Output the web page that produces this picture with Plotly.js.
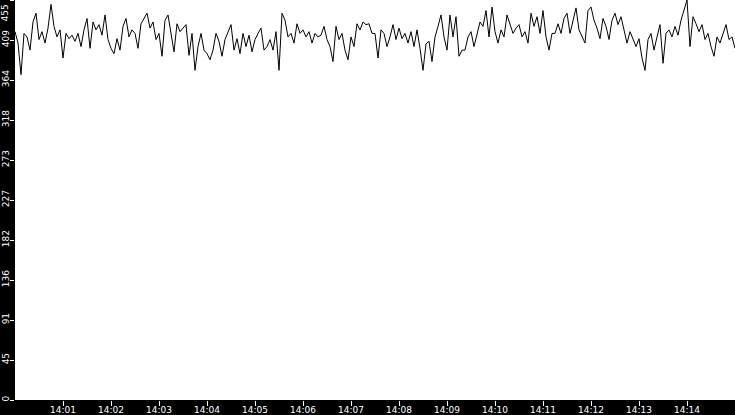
<!DOCTYPE html>
<html>
<head>
<meta charset="utf-8">
<script src="https://cdn.plot.ly/plotly-3.0.1.min.js"></script>
<style>
  html, body { margin: 0; padding: 0; background: #000; }
  #chart { width: 735px; height: 415px; }
</style>
</head>
<body>
<div id="chart"></div>
<script>
    // Samples every 3.75 s from 14:00:00 to 14:15:00
    var startTime = '2024-01-01T14:00:00';
    var stepSeconds = 3.75;

    var values = [
        419, 406, 370, 417, 413, 398, 430, 440, 410, 419, 406, 423, 450, 425, 413, 421, 389, 417, 411, 415, 408, 417, 402, 421, 434, 400, 430, 421, 427, 415,
        438, 410, 400, 394, 411, 398, 425, 434, 413, 421, 417, 400, 428, 434, 440, 423, 430, 410, 417, 391, 432, 438, 419, 396, 428, 419, 423, 427, 392, 417,
        375, 402, 417, 398, 394, 387, 398, 417, 408, 391, 410, 419, 427, 398, 411, 394, 417, 402, 415, 396, 410, 417, 423, 398, 402, 410, 398, 419, 375, 440,
        432, 413, 417, 406, 428, 417, 421, 413, 419, 406, 417, 413, 415, 425, 410, 402, 385, 425, 410, 417, 398, 387, 413, 402, 428, 421, 430, 427, 428, 417,
        417, 389, 421, 417, 402, 413, 427, 410, 423, 411, 417, 406, 419, 402, 421, 400, 375, 405, 408, 385, 413, 425, 438, 413, 398, 438, 413, 436, 391, 398,
        398, 413, 419, 402, 417, 430, 425, 443, 413, 447, 419, 406, 421, 413, 438, 428, 417, 423, 427, 413, 419, 406, 440, 425, 436, 417, 443, 413, 398, 417,
        417, 428, 417, 434, 440, 417, 432, 446, 421, 413, 406, 443, 447, 432, 423, 411, 434, 425, 410, 432, 440, 427, 436, 421, 406, 419, 410, 402, 411, 389,
        375, 410, 417, 398, 413, 427, 383, 417, 421, 413, 425, 415, 432, 443, 455, 402, 436, 428, 419, 427, 410, 417, 402, 391, 413, 406, 417, 427, 410, 413,
        400
    ];

    var yTickValues = [0, 45.5, 91, 136.5, 182, 227.5, 273, 318.5, 364, 409.5, 455];
    var yTickLabels = ['0', '45', '91', '136', '182', '227', '273', '318', '364', '409', '455'];
    var xTickMinutes = ['14:01', '14:02', '14:03', '14:04', '14:05', '14:06', '14:07', '14:08', '14:09', '14:10', '14:11', '14:12', '14:13', '14:14'];

    var t0 = new Date(startTime).getTime();
    var times = values.map(function(v, i) { return new Date(t0 + i * stepSeconds * 1000); });
    var xTickValues = xTickMinutes.map(function(m) { return '2024-01-01 ' + m + ':00'; });

    var font = { family: '"DejaVu Sans", Verdana, sans-serif', size: 9, color: '#ffffff' };

    // top label would sit half outside the page, so it is drawn as a note pushed down to fit
    var lastTick = yTickLabels.length - 1;
    var axisLabels = yTickLabels.map(function(t, i) { return i === lastTick ? '' : t; });

    var trace = {
        x: times,
        y: values,
        type: 'scatter',
        mode: 'lines',
        line: { color: '#000000', width: 1 },
        hoverinfo: 'skip'
    };

    var layout = {
        width: 735,
        height: 415,
        margin: { t: 0, r: 0, b: 15, l: 15 },
        paper_bgcolor: '#000000',
        plot_bgcolor: '#ffffff',
        font: font,
        showlegend: false,
        xaxis: {
            type: 'date',
            range: ['2024-01-01 14:00:00', '2024-01-01 14:15:00'],
            tickmode: 'array',
            tickvals: xTickValues,
            ticktext: xTickMinutes,
            ticks: 'outside',
            ticklen: 5,
            tickcolor: '#ffffff',
            tickfont: font,
            ticklabelstandoff: -4,
            showgrid: false,
            zeroline: false,
            showline: false,
            fixedrange: true
        },
        yaxis: {
            range: [0, 455],
            tickmode: 'array',
            tickvals: yTickValues,
            ticktext: axisLabels,
            tickangle: -90,
            ticks: 'outside',
            ticklen: 4,
            tickcolor: '#ffffff',
            tickfont: font,
            ticklabelstandoff: -3,
            ticklabeloverflow: 'allow',
            showgrid: false,
            zeroline: false,
            showline: false,
            fixedrange: true
        },
        annotations: [{
            xref: 'paper',
            yref: 'y',
            x: 0,
            y: yTickValues[lastTick],
            xanchor: 'right',
            yanchor: 'top',
            xshift: -4,
            yshift: -2,
            text: yTickLabels[lastTick],
            textangle: -90,
            showarrow: false,
            font: font
        }]
    };

    Plotly.newPlot('chart', [trace], layout, { displayModeBar: false, staticPlot: true });
</script>
</body>
</html>
